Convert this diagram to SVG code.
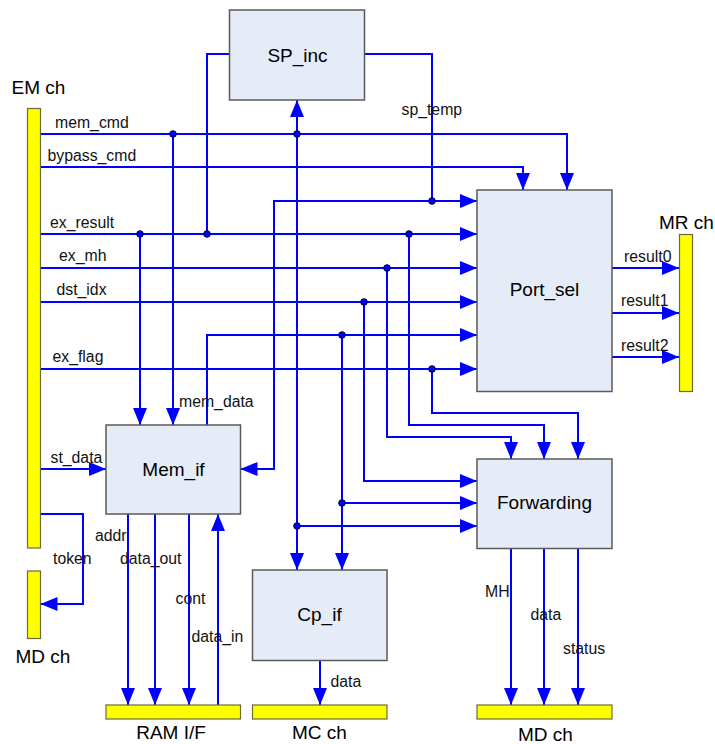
<svg xmlns="http://www.w3.org/2000/svg" width="715" height="744" viewBox="0 0 715 744">
<style>
.box{fill:#E6ECF7;stroke:#5a5a5a;stroke-width:1.5}
.bar{fill:#FFFF00;stroke:#6b6b3a;stroke-width:1.2}
.w{fill:none;stroke:#0000FF;stroke-width:2}
.a{marker-end:url(#arr)}
.dot{fill:#0000FF;stroke:#000033;stroke-width:1}
.big{font-family:"Liberation Sans",Arial,sans-serif;font-size:19px;fill:#000;text-anchor:middle}
.lbl{font-family:"Liberation Sans",Arial,sans-serif;font-size:15.8px;fill:#111}
</style>
<defs>
<marker id="arr" markerUnits="userSpaceOnUse" markerWidth="18" markerHeight="15" refX="17" refY="7" orient="auto">
<path d="M0,0 L17,7 L0,14 z" fill="#0000FF"/>
</marker>
</defs>
<rect width="715" height="744" fill="#fff"/>

<g id="connectors">
<path class="w a" d="M40.5,134 H567 V190"/>
<path class="w a" d="M40.5,167 H523 V190"/>
<path class="w a" d="M40.5,234 H477"/>
<path class="w a" d="M40.5,268 H477"/>
<path class="w a" d="M40.5,302 H477"/>
<path class="w a" d="M40.5,369 H477"/>
<path class="w a" d="M207,425 V335 H477"/>
<path class="w" d="M229.5,54 H207 V234"/>
<path class="w" d="M364.5,54 H432 V201"/>
<path class="w a" d="M432,201 H477"/>
<path class="w a" d="M432,201 H274 V469 H240.5"/>
<path class="w a" d="M173,134 V425"/>
<path class="w a" d="M297,134 V100"/>
<path class="w a" d="M297,134 V570"/>
<path class="w a" d="M297,526 H477"/>
<path class="w a" d="M140,234 V425"/>
<path class="w a" d="M409,234 V425 H544 V459"/>
<path class="w a" d="M387,268 V437 H511 V459"/>
<path class="w a" d="M364,302 V481 H477"/>
<path class="w a" d="M342,335 V570"/>
<path class="w a" d="M342,503 H477"/>
<path class="w a" d="M432,369 V413 H578 V459"/>
<path class="w a" d="M40.5,469 H106"/>
<path class="w a" d="M40.5,514 H83 V604 H40.5"/>
<path class="w a" d="M128,514 V705"/>
<path class="w a" d="M155,514 V705"/>
<path class="w a" d="M189,514 V705"/>
<path class="w a" d="M218,705 V514"/>
<path class="w a" d="M320,660.5 V705"/>
<path class="w a" d="M511,548.5 V705"/>
<path class="w a" d="M544,548.5 V705"/>
<path class="w a" d="M578,548.5 V705"/>
<path class="w a" d="M612,268 H679"/>
<path class="w a" d="M612,313 H679"/>
<path class="w a" d="M612,357 H679"/>
<circle class="dot" cx="173" cy="134" r="3.3"/>
<circle class="dot" cx="297" cy="134" r="3.3"/>
<circle class="dot" cx="140" cy="234" r="3.3"/>
<circle class="dot" cx="207" cy="234" r="3.3"/>
<circle class="dot" cx="409" cy="234" r="3.3"/>
<circle class="dot" cx="432" cy="201" r="3.3"/>
<circle class="dot" cx="387" cy="268" r="3.3"/>
<circle class="dot" cx="364" cy="302" r="3.3"/>
<circle class="dot" cx="342" cy="335" r="3.3"/>
<circle class="dot" cx="432" cy="369" r="3.3"/>
<circle class="dot" cx="342" cy="503" r="3.3"/>
<circle class="dot" cx="297" cy="526" r="3.3"/>
<text class="lbl" x="55" y="127.5">mem_cmd</text>
<text class="lbl" x="47.5" y="161">bypass_cmd</text>
<text class="lbl" x="50" y="228">ex_result</text>
<text class="lbl" x="59" y="261">ex_mh</text>
<text class="lbl" x="56.5" y="294.5">dst_idx</text>
<text class="lbl" x="52.5" y="362">ex_flag</text>
<text class="lbl" x="179" y="407">mem_data</text>
<text class="lbl" x="50.5" y="463">st_data</text>
<text class="lbl" x="401.5" y="114.5">sp_temp</text>
<text class="lbl" x="624" y="262">result0</text>
<text class="lbl" x="621" y="306">result1</text>
<text class="lbl" x="621" y="351">result2</text>
<text class="lbl" x="95" y="540.5">addr</text>
<text class="lbl" x="53" y="563.5">token</text>
<text class="lbl" x="120" y="563.5">data_out</text>
<text class="lbl" x="175.5" y="603.5">cont</text>
<text class="lbl" x="191.5" y="641.5">data_in</text>
<text class="lbl" x="330.5" y="686.5">data</text>
<text class="lbl" x="485" y="597">MH</text>
<text class="lbl" x="530.5" y="620">data</text>
<text class="lbl" x="563" y="653.5">status</text>
</g>

<g id="SP_inc"><rect class="box" x="229.5" y="10" width="135" height="90"/><text class="big" x="297.5" y="61.5">SP_inc</text></g>
<g id="Port_sel"><rect class="box" x="477" y="190" width="135" height="201.5"/><text class="big" x="544.5" y="296">Port_sel</text></g>
<g id="Mem_if"><rect class="box" x="106" y="425" width="134.5" height="89"/><text class="big" x="173.5" y="475.5">Mem_if</text></g>
<g id="Forwarding"><rect class="box" x="477" y="459" width="135" height="89.5"/><text class="big" x="544.5" y="509">Forwarding</text></g>
<g id="Cp_if"><rect class="box" x="252.5" y="570" width="134.5" height="90.5"/><text class="big" x="319.5" y="621">Cp_if</text></g>

<g id="EM_ch"><rect class="bar" x="27.5" y="108.5" width="13" height="439.5"/><text class="big" x="38.5" y="94">EM ch</text></g>
<g id="MR_ch"><rect class="bar" x="679.5" y="234.5" width="13" height="157"/><text class="big" x="686.5" y="229">MR ch</text></g>
<g id="MD_ch_left"><rect class="bar" x="27.5" y="571" width="13" height="67.5"/><text class="big" x="43" y="663">MD ch</text></g>
<g id="RAM_IF"><rect class="bar" x="106" y="705" width="134.5" height="14"/><text class="big" x="171" y="739">RAM I/F</text></g>
<g id="MC_ch"><rect class="bar" x="252.5" y="705" width="134.5" height="14"/><text class="big" x="319.5" y="739">MC ch</text></g>
<g id="MD_ch_bottom"><rect class="bar" x="477" y="705" width="135" height="14"/><text class="big" x="545.5" y="741">MD ch</text></g>
</svg>
